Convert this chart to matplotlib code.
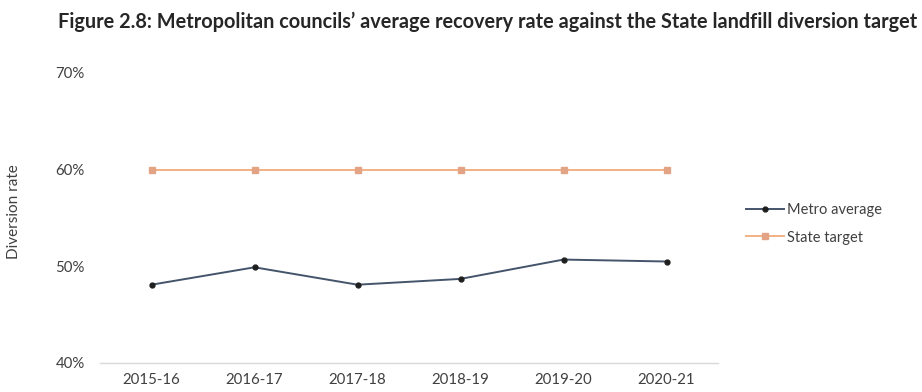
import matplotlib
matplotlib.use("Agg")
import matplotlib.pyplot as plt
from matplotlib.ticker import PercentFormatter

plt.rcParams['font.family'] = ['Lato', 'DejaVu Sans']

years = ["2015-16", "2016-17", "2017-18", "2018-19", "2019-20", "2020-21"]
metro_average = [48.1, 49.9, 48.1, 48.7, 50.7, 50.5]
state_target = [60, 60, 60, 60, 60, 60]

W, H = 922, 392
fig = plt.figure(figsize=(W / 100, H / 100), dpi=100)
fig.patch.set_facecolor("white")

ax = fig.add_axes([100 / W, 1 - 363 / H, 618 / W, 290 / H])
x = range(len(years))

ax.plot(x, metro_average, color="#44546A", lw=1.4, marker="o", ms=3.5,
        mfc="#1F1F1F", mec="#1F1F1F", label="Metro average")
ax.plot(x, state_target, color="#F4B183", lw=1.4, marker="s", ms=5,
        mfc="#E3A486", mec="#E3A486", label="State target")

ax.set_xlim(-0.5, len(years) - 0.5)
ax.set_ylim(40, 70)
ax.set_yticks([40, 50, 60, 70])
ax.yaxis.set_major_formatter(PercentFormatter(decimals=0))
ax.set_xticks(list(x))
ax.set_xticklabels(years)

for side in ("top", "right", "left"):
    ax.spines[side].set_visible(False)
ax.spines["bottom"].set_color("#D9D9D9")
ax.spines["bottom"].set_linewidth(1.0)
ax.tick_params(axis="both", length=0, labelsize=10.8, colors="#404040")
ax.tick_params(axis="y", pad=11)
ax.tick_params(axis="x", pad=7)

fig.text(14 / W, 1 - 212 / H, "Diversion rate", rotation=90, ha="center",
         va="center", fontsize=11, color="#404040")

leg = ax.legend(loc="center left", bbox_to_anchor=(733 / W, 1 - 224 / H),
                bbox_transform=fig.transFigure, frameon=False, fontsize=10.5,
                handlelength=2.6, handletextpad=0.2, labelspacing=0.9)
for t in leg.get_texts():
    t.set_color("#404040")

title = fig.text(58 / W, 1 - 22 / H,
                 "Figure 2.8: Metropolitan councils\u2019 average recovery rate against the State landfill diversion target",
                 ha="left", va="center", fontsize=12, fontweight="bold", color="#262626")
fig.canvas.draw()
w = title.get_window_extent().width
title.set_fontsize(12 * 854 / w)

fig.savefig("out.png", dpi=100, facecolor="white")
